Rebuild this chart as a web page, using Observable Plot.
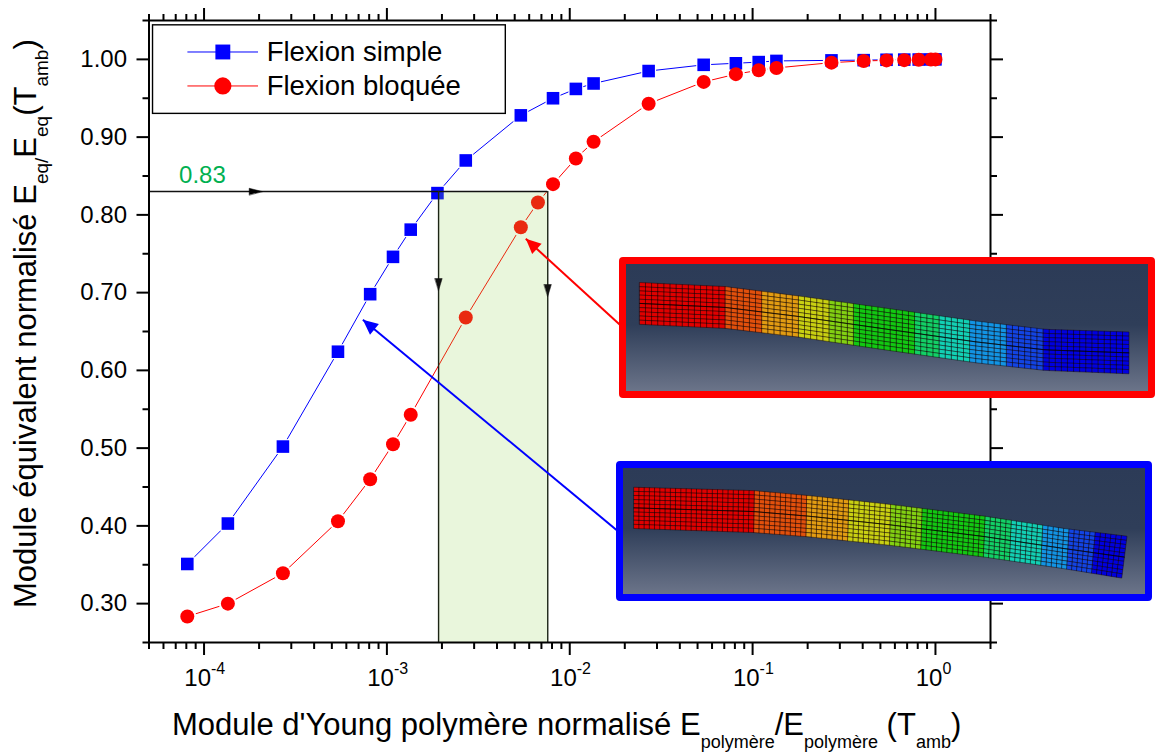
<!DOCTYPE html>
<html lang="fr">
<head>
<meta charset="utf-8">
<title>Module équivalent normalisé</title>
<script src="https://cdn.jsdelivr.net/npm/d3@7"></script>
<script src="https://cdn.jsdelivr.net/npm/@observablehq/plot@0.6"></script>
<style>
  html, body { margin: 0; padding: 0; background: #fff; }
  #chart { position: relative; width: 1156px; height: 752px; overflow: hidden; }
  #chart svg { display: block; }
  .inset { position: absolute; }
</style>
</head>
<body>
<div id="chart"></div>
<script>
// ---------- chart data ----------
const simpleX = [8.1e-5, 1.35e-4, 2.7e-4, 5.4e-4, 8.1e-4, 1.08e-3, 1.35e-3, 1.89e-3, 2.7e-3, 5.4e-3, 8.1e-3, 1.08e-2, 1.35e-2, 2.7e-2, 5.4e-2, 8.1e-2, 0.108, 0.135, 0.27, 0.405, 0.54, 0.675, 0.81, 0.945, 1];
const simpleY = [0.351, 0.403, 0.502, 0.624, 0.698, 0.746, 0.781, 0.828, 0.870, 0.928, 0.950, 0.962, 0.969, 0.985, 0.993, 0.995, 0.9965, 0.998, 0.9987, 0.999, 0.9995, 0.9997, 0.9998, 0.9999, 1];
const bloqueeX = [8.1e-5, 1.35e-4, 2.7e-4, 5.4e-4, 8.1e-4, 1.08e-3, 1.35e-3, 2.7e-3, 5.4e-3, 6.7e-3, 8.1e-3, 1.08e-2, 1.35e-2, 2.7e-2, 5.4e-2, 8.1e-2, 0.108, 0.135, 0.27, 0.405, 0.54, 0.675, 0.81, 0.945, 1];
const bloqueeY = [0.2835, 0.300, 0.339, 0.406, 0.460, 0.505, 0.543, 0.668, 0.784, 0.816, 0.8395, 0.8726, 0.894, 0.943, 0.971, 0.981, 0.986, 0.989, 0.9958, 0.998, 0.9987, 0.999, 0.9995, 0.9997, 1];

const xMajor = [1e-4, 1e-3, 1e-2, 1e-1, 1];
const xMajorExp = ["-4", "-3", "-2", "-1", "0"];
const xMinor = [5e-5,6e-5,7e-5,8e-5,9e-5, 2e-4,3e-4,4e-4,5e-4,6e-4,7e-4,8e-4,9e-4, 2e-3,3e-3,4e-3,5e-3,6e-3,7e-3,8e-3,9e-3, 2e-2,3e-2,4e-2,5e-2,6e-2,7e-2,8e-2,9e-2, 0.2,0.3,0.4,0.5,0.6,0.7,0.8,0.9, 2];
const yMajor = [0.3, 0.4, 0.5, 0.6, 0.7, 0.8, 0.9, 1.0];
const yMinor = [0.25, 0.35, 0.45, 0.55, 0.65, 0.75, 0.85, 0.95, 1.05];

const threshold = 0.83;
const bandX = [1.917e-3, 7.58e-3];

// legend box + annotation anchors (data coordinates)
const legendBox = {x1: 5.26e-5, x2: 4.47e-3, y1: 0.9299, y2: 1.0438};
const legendLine = [8.16e-5, 1.986e-4];
const legendMarkerX = 1.267e-4;
const legendTextX = 2.2e-4;
const legendRows = [
  {label: "Flexion simple",  y: 1.0095},
  {label: "Flexion bloquée", y: 0.9658}
];

// pointer arrows (from the picture, tail -> tip)
const redArrow  = {x1: 0.0190, y1: 0.6577, x2: 5.75e-3, y2: 0.7692, rotate: -47.6};
const blueArrow = {x1: 0.0190, y1: 0.3903, x2: 7.39e-4, y2: 0.665,  rotate: -50.5};

const simple = simpleX.map((x, i) => ({x, y: simpleY[i]}));
const bloquee = bloqueeX.map((x, i) => ({x, y: bloqueeY[i]}));

const tickOpts = {stroke: "#000", strokeWidth: 2, label: null};
const blank = () => "";
const FONT = "'Liberation Sans', Arial, sans-serif";
const headShape = {
  draw(ctx, l, r) {
    ctx.moveTo(0, 0);
    ctx.lineTo(-r, l);
    ctx.lineTo(r, l);
    ctx.closePath();
  }
};

// rich text with subscripts, appended as a real <text> element
function richText(parts, {x, y, rotate = 0, size, subSize, subShift}) {
  return () => {
    const t = d3.create("svg:text")
      .attr("transform", `translate(${x},${y}) rotate(${rotate})`)
      .attr("text-anchor", "start")
      .attr("font-size", size).attr("fill", "#000");
    let shift = 0;
    for (const [str, sub] of parts) {
      const target = sub ? subShift : 0;
      t.append("tspan")
        .attr("font-size", sub ? subSize : size)
        .attr("dy", target - shift)
        .text(str);
      shift = target;
    }
    return t.node();
  };
}

const main = Plot.plot({
  width: 1156, height: 752,
  marginLeft: 148.5, marginRight: 166, marginTop: 20, marginBottom: 110,
  style: {fontFamily: FONT, background: "transparent", color: "#000", overflow: "visible", maxWidth: "none"},
  x: {type: "log", domain: [5e-5, 2], axis: null},
  y: {domain: [0.25, 1.05], axis: null},
  marks: [
    // curves with the gap the markers leave around themselves
    Plot.line(simple, {x: "x", y: "y", stroke: "#0000ff", strokeWidth: 1}),
    Plot.line(bloquee, {x: "x", y: "y", stroke: "#ff0000", strokeWidth: 1}),
    Plot.dot(simple, {x: "x", y: "y", symbol: "square", r: 8.4, fill: "#fff", stroke: "none"}),
    Plot.dot(bloquee, {x: "x", y: "y", r: 9, fill: "#fff", stroke: "none"}),
    Plot.dot(simple, {x: "x", y: "y", symbol: "square", r: 7.1, fill: "#0000ff", stroke: "none"}),
    Plot.dot(bloquee, {x: "x", y: "y", r: 7, fill: "#ff0000", stroke: "none"}),

    // green window, above the markers as in the original
    Plot.rectY([0], {x1: bandX[0], x2: bandX[1], y1: 0.25, y2: threshold, fill: "#92d050", fillOpacity: 0.2}),
    Plot.ruleY([threshold], {x1: 5e-5, x2: bandX[1], stroke: "#111", strokeWidth: 1.4}),
    Plot.ruleX(bandX, {y1: 0.25, y2: threshold, stroke: "#1c2415", strokeWidth: 1.4}),
    Plot.vector([{x: 2.08e-4, y: threshold}], {x: "x", y: "y", rotate: 90, length: 13, r: 3.3, shape: headShape, anchor: "start", fill: "#000", stroke: "#000", strokeWidth: 0.5}),
    Plot.vector([{x: bandX[0], y: 0.7027}, {x: bandX[1], y: 0.695}], {x: "x", y: "y", rotate: 180, length: 12, r: 3.6, shape: headShape, anchor: "start", fill: "#111", stroke: "#111", strokeWidth: 0.5}),
    Plot.text(["0.83"], {x: 7.3e-5, y: 0.8503, textAnchor: "start", fontSize: 24, fill: "#00b050"}),

    // pointers to the insets
    Plot.link([redArrow], {x1: "x1", y1: "y1", x2: "x2", y2: "y2", stroke: "#ff0000", strokeWidth: 2}),
    Plot.vector([redArrow], {x: "x2", y: "y2", rotate: "rotate", length: 15, r: 7, shape: headShape, anchor: "start", fill: "#ff0000", stroke: "none"}),
    Plot.link([blueArrow], {x1: "x1", y1: "y1", x2: "x2", y2: "y2", stroke: "#0000ff", strokeWidth: 2}),
    Plot.vector([blueArrow], {x: "x2", y: "y2", rotate: "rotate", length: 15, r: 7, shape: headShape, anchor: "start", fill: "#0000ff", stroke: "none"}),

    // legend
    Plot.rect([legendBox], {x1: "x1", x2: "x2", y1: "y1", y2: "y2", fill: "#fff", stroke: "#000", strokeWidth: 1.4}),
    Plot.ruleY([legendRows[0].y], {x1: legendLine[0], x2: legendLine[1], stroke: "#0000ff", strokeWidth: 1}),
    Plot.ruleY([legendRows[1].y], {x1: legendLine[0], x2: legendLine[1], stroke: "#ff0000", strokeWidth: 1}),
    Plot.dot([legendRows[0]], {x: () => legendMarkerX, y: "y", symbol: "square", r: 8.4, fill: "#0000ff", stroke: "none"}),
    Plot.dot([legendRows[1]], {x: () => legendMarkerX, y: "y", r: 8.6, fill: "#ff0000", stroke: "none"}),
    Plot.text(legendRows, {x: () => legendTextX, y: "y", text: "label", textAnchor: "start", fontSize: 27.5, fill: "#000"}),

    // axes
    Plot.frame({stroke: "#000", strokeWidth: 2}),
    Plot.axisY({anchor: "left", ticks: yMajor, tickSize: 12, tickPadding: 10, fontSize: 24, tickFormat: d3.format(".2f"), ...tickOpts}),
    Plot.axisY({anchor: "left", ticks: yMinor, tickSize: 6, tickFormat: blank, ...tickOpts}),
    Plot.axisY({anchor: "right", ticks: yMajor, tickSize: 12, tickFormat: blank, ...tickOpts}),
    Plot.axisY({anchor: "right", ticks: yMinor, tickSize: 6, tickFormat: blank, ...tickOpts}),
    Plot.axisX({anchor: "bottom", ticks: xMajor, tickSize: 13, tickFormat: blank, ...tickOpts}),
    Plot.axisX({anchor: "bottom", ticks: xMinor, tickSize: 7, tickFormat: blank, ...tickOpts}),
    Plot.axisX({anchor: "top", ticks: xMajor, tickSize: 13, tickFormat: blank, ...tickOpts}),
    Plot.axisX({anchor: "top", ticks: xMinor, tickSize: 7, tickFormat: blank, ...tickOpts}),
    Plot.text(xMajor, {x: d => d, frameAnchor: "bottom", dy: 43, dx: 7, text: () => "10", textAnchor: "end", fontSize: 24, fill: "#000"}),
    Plot.text(xMajor, {x: d => d, frameAnchor: "bottom", dy: 31, dx: 7, text: (d, i) => xMajorExp[i], textAnchor: "start", fontSize: 16, fill: "#000"}),

    // axis titles
    richText([
      ["Module d'Young polymère normalisé E"], ["polymère", true], ["/E"], ["polymère", true], [" (T"], ["amb", true], [")"]
    ], {x: 172, y: 735, size: 31, subSize: 18, subShift: 13}),
    richText([
      ["Module équivalent normalisé E"], ["eq/", true], ["E"], ["eq", true], ["(T"], ["amb", true], [")"]
    ], {x: 36, y: 608, rotate: -90, size: 31, subSize: 19, subShift: 12})
  ]
});
document.getElementById("chart").append(main);

// ---------- inset beam pictures ----------
const redBeam = {
  left: 619, top: 257, border: "#ff0000", h: 127,
  domainX: [47, 1546], domainY: [41, 421],
  cols: 80,
  topX: [85, 330, 540, 780, 1050, 1250, 1490],
  topY: [95, 107, 135, 170, 210, 235, 243],
  botX: [85, 330, 540, 780, 1050, 1250, 1490],
  botY: [220, 232, 258, 295, 335, 358, 368],
  skewX: [85, 1490], skew: [0, 0],
  stops: [330, 445, 545, 625, 705, 870, 945, 1035, 1130, 1250, 1490],
  colors: ["#e00000", "#e2500c", "#e29c12", "#c9d012", "#82d012", "#12c812", "#12d066", "#12d0b4", "#1294e4", "#1244e4", "#0000e0"]
};
const blueBeam = {
  left: 616, top: 461, border: "#0000ff", h: 126,
  domainX: [38, 1533], domainY: [41, 417],
  cols: 94,
  topX: [68, 410, 570, 800, 1070, 1300, 1480],
  topY: [97, 107, 122, 148, 183, 220, 243],
  botX: [68, 410, 570, 800, 1070, 1300, 1465],
  botY: [220, 232, 245, 270, 305, 340, 368],
  skewX: [68, 1300, 1480], skew: [0, -6, -15],
  stops: [410, 565, 690, 800, 900, 1070, 1150, 1240, 1310, 1395, 1480],
  colors: ["#e00000", "#e2500c", "#e29c12", "#c9d012", "#82d012", "#12c812", "#12d066", "#12d0b4", "#1294e4", "#1244e4", "#0000e0"]
};

function drawBeam(b) {
  const rows = 10, w = 522;
  const sx = d3.scaleLinear(b.domainX, [0, w]);
  const sy = d3.scaleLinear(b.domainY, [0, b.h]);
  const topEdge = d3.scaleLinear(b.topX, b.topY);
  const botEdge = d3.scaleLinear(b.botX, b.botY);
  const skew = d3.scaleLinear(b.skewX, b.skew);
  const x0 = b.topX[0], x1 = b.topX[b.topX.length - 1];
  const node = (j, i) => {
    const xt = x0 + (x1 - x0) * j / b.cols;
    const t = i / rows;
    const xb = xt + skew(xt);
    const yt = topEdge(xt), yb = botEdge(xb);
    return [xt + (xb - xt) * t, yt + (yb - yt) * t];
  };
  const cells = [];
  for (let j = 0; j < b.cols; ++j) {
    const mid = x0 + (x1 - x0) * (j + 0.5) / b.cols;
    const color = b.colors[d3.bisect(b.stops, mid)] ?? b.colors[b.colors.length - 1];
    for (let i = 0; i < rows; ++i) {
      cells.push({
        type: "Feature", properties: {color},
        geometry: {type: "Polygon", coordinates: [[node(j, i), node(j + 1, i), node(j + 1, i + 1), node(j, i + 1), node(j, i)]]}
      });
    }
  }
  const midLine = {type: "LineString", coordinates: d3.range(b.cols + 1).map(j => node(j, rows / 2))};
  const svg = Plot.plot({
    width: w, height: b.h, margin: 0,
    projection: d3.geoTransform({point(x, y) { this.stream.point(sx(x), sy(y)); }}),
    style: {
      background: "linear-gradient(#2c3b57 0%, #2f3e59 48%, #6b7489 100%)",
      border: `7px solid ${b.border}`, borderRadius: "4px", boxSizing: "content-box", maxWidth: "none"
    },
    marks: [
      Plot.geo(cells, {fill: d => d.properties.color, stroke: "#100000", strokeOpacity: 0.7, strokeWidth: 0.6}),
      Plot.geo([midLine], {stroke: "#000", strokeOpacity: 0.8, strokeWidth: 0.8})
    ]
  });
  const holder = document.createElement("div");
  holder.className = "inset";
  holder.style.left = b.left + "px";
  holder.style.top = b.top + "px";
  holder.append(svg);
  document.getElementById("chart").append(holder);
}
drawBeam(redBeam);
drawBeam(blueBeam);
</script>
</body>
</html>
